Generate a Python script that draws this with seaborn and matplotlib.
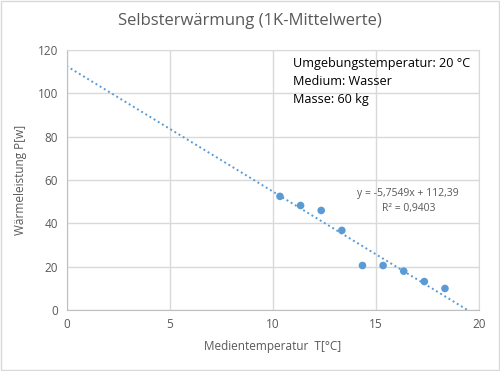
import pandas as pd
import matplotlib
matplotlib.use('Agg')
import matplotlib.pyplot as plt
import seaborn as sns

# measured points (1K mean values)
temp = [10.35, 11.35, 12.35, 13.35, 14.35, 15.35, 16.35, 17.35, 18.35]
power = [52.5, 48.3, 46.0, 36.8, 20.6, 20.6, 18.0, 13.2, 10.0]
eq_text = 'y = -5,7549x + 112,39'
r2_text = 'R² = 0,9403'
info_lines = ['Umgebungstemperatur: 20 °C', 'Medium: Wasser', 'Masse: 60 kg']

df = pd.DataFrame({'T': temp, 'P': power})

sns.set_style('white')
plt.rcParams['font.family'] = ['Open Sans', 'DejaVu Sans']

blue = '#5b9bd5'
grey = '#595959'

fig = plt.figure(figsize=(5, 3.71), dpi=100)
ax = fig.add_axes([0.133, 0.164, 0.825, 0.701])
ax.set_xlim(0, 20)
ax.set_ylim(0, 120)

# dotted linear trendline, extended over the whole axis range
sns.regplot(data=df, x='T', y='P', ax=ax, ci=None, truncate=False, scatter=False,
            line_kws={'color': blue, 'linestyle': (0, (1, 1.5)), 'linewidth': 1.4})
sns.scatterplot(data=df, x='T', y='P', ax=ax, color=blue, s=30, edgecolor='none', zorder=3)

ax.set_xlim(0, 20)
ax.set_ylim(0, 120)
ax.set_xticks(range(0, 21, 5))
ax.set_yticks(range(0, 121, 20))
ax.grid(True, color='#d9d9d9', linewidth=1)
for s in ax.spines.values():
    s.set_color('#d9d9d9')
ax.spines['left'].set_color('#bfbfbf')
ax.spines['bottom'].set_color('#bfbfbf')
ax.tick_params(length=0, labelsize=8.5, labelcolor=grey, pad=6)

ax.set_xlabel('Medientemperatur  T[°C]', fontsize=8.5, color=grey, labelpad=6)
ax.set_ylabel('Wärmeleistung P[w]', fontsize=8.5, color=grey, labelpad=8)
fig.suptitle('Selbsterwärmung (1K-Mittelwerte)', x=0.5, y=0.965, fontsize=12, color=grey)

for i, line in enumerate(info_lines):
    fig.text(0.586, 0.83 - i * 0.049, line, fontsize=9.1, color='black', va='center')

fig.text(0.918, 0.479, eq_text, fontsize=7.5, color=grey, ha='right', va='center')
fig.text(0.870, 0.438, r2_text, fontsize=7.5, color=grey, ha='right', va='center')

# chart border
fig.patches.append(plt.Rectangle((0.002, 0.003), 0.996, 0.994, transform=fig.transFigure,
                                 fill=False, edgecolor='#d9d9d9', linewidth=1))

fig.savefig('out.png', dpi=100)
